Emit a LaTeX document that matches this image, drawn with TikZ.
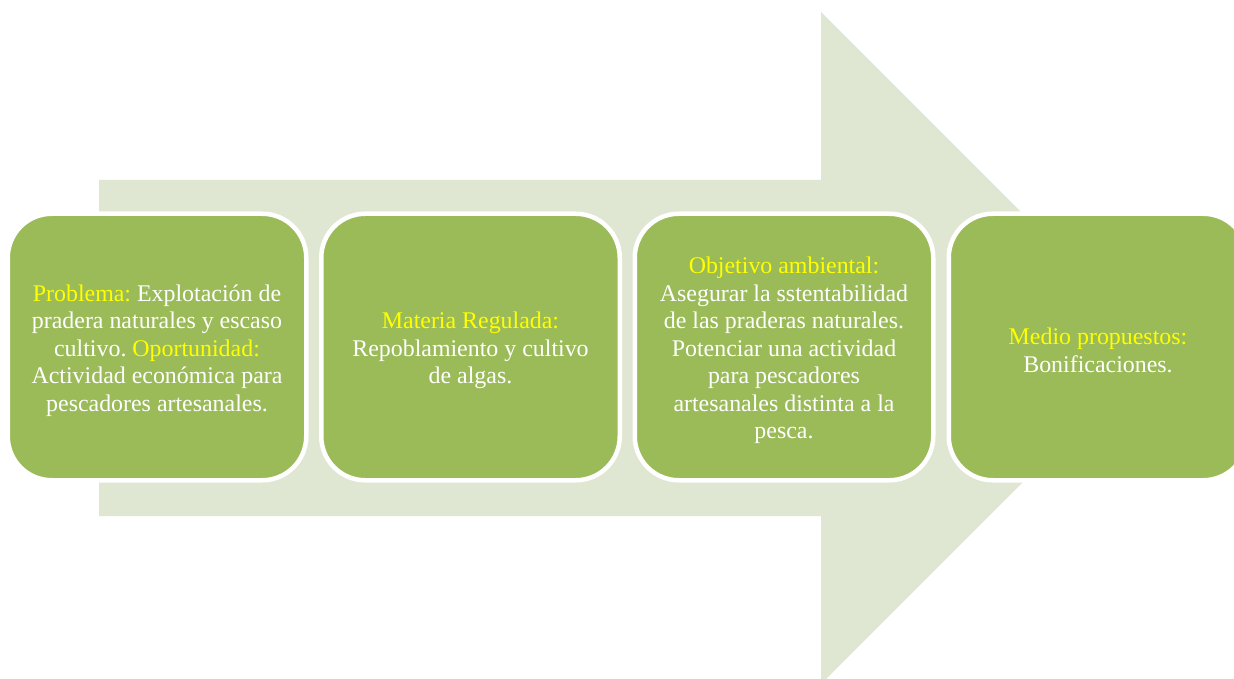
\documentclass[tikz,border=0pt]{standalone}
\usepackage{fontspec}
\setmainfont{Liberation Serif}
\definecolor{arrowfill}{HTML}{DFE7D3}
\definecolor{boxfill}{HTML}{9BBB59}
\definecolor{lab}{HTML}{FFFF00}
\begin{document}
\begin{tikzpicture}[x=1pt,y=-1pt,
  stagebox/.style={rectangle, rounded corners=44pt, fill=boxfill, draw=white, line width=4.5pt,
    minimum width=298.5pt, minimum height=266.5pt, inner sep=0pt},
  stagetext/.style={text=white, align=center, font=\fontsize{23.9}{27.5}\selectfont, inner sep=0pt}]
\useasboundingbox (0,0) rectangle (1234,679);
\clip (0,0) rectangle (1234,679);
\fill[arrowfill] (99,180) -- (821,180) -- (821,12) -- (1157,348) -- (821,684) -- (821,516) -- (99,516) -- cycle;
\node[stagebox] (b1) at (157,347) {};
\node[stagebox] (b2) at (470.5,347) {};
\node[stagebox] (b3) at (784,347) {};
\node[stagebox] (b4) at (1098,347) {};
\node[stagetext] (t1) at ([yshift=-3.5pt]b1.center) {\textcolor{lab}{Problema:}~Explotación de\\pradera naturales y escaso\\cultivo.~\textcolor{lab}{Oportunidad:}\\Actividad económica para\\pescadores artesanales.};
\node[stagetext] (t2) at ([yshift=-3.5pt]b2.center) {\textcolor{lab}{Materia Regulada:}\\Repoblamiento y cultivo\\de algas.};
\node[stagetext] (t3) at ([yshift=-3.5pt]b3.center) {\textcolor{lab}{Objetivo ambiental:}\\Asegurar la sstentabilidad\\de las praderas naturales.\\Potenciar una actividad\\para pescadores\\artesanales distinta a la\\pesca.};
\node[stagetext] (t4) at ([yshift=-3.5pt]b4.center) {\textcolor{lab}{Medio propuestos:}\\Bonificaciones.};
\end{tikzpicture}
\end{document}
